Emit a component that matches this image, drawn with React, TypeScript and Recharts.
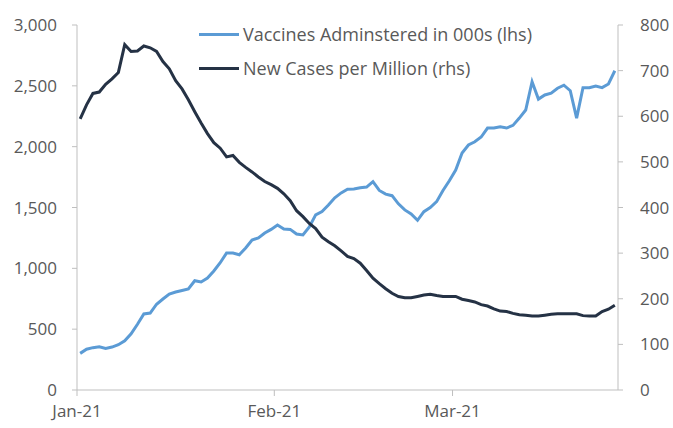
import React from 'react';
import { LineChart, Line, XAxis, YAxis } from 'recharts';

// daily values, 1 Jan 2021 to 26 Mar 2021
const vaccines = [
  301, 335, 348, 355, 342, 353, 372, 405, 462, 540,
  625, 632, 705, 748, 789, 805, 818, 830, 898, 888,
  920, 978, 1046, 1126, 1126, 1112, 1167, 1233, 1250, 1290,
  1320, 1356, 1323, 1320, 1282, 1274, 1340, 1440, 1466, 1520,
  1580, 1620, 1650, 1652, 1662, 1668, 1712, 1640, 1610, 1597,
  1530, 1480, 1447, 1395, 1466, 1500, 1548, 1640, 1720, 1808,
  1948, 2014, 2040, 2079, 2153, 2153, 2164, 2153, 2175, 2235,
  2301, 2534, 2391, 2425, 2440, 2480, 2505, 2460, 2235, 2485,
  2485, 2499, 2485, 2515, 2624
];

const newCases = [
  594, 625, 650, 653, 670, 682, 696, 757, 742, 743,
  754, 750, 742, 720, 704, 678, 660, 636, 610, 585,
  562, 542, 530, 511, 514, 499, 488, 478, 467, 457,
  450, 442, 430, 415, 393, 380, 365, 354, 335, 325,
  316, 305, 293, 288, 278, 262, 245, 233, 222, 212,
  205, 202, 202, 205, 208, 210, 207, 205, 205, 205,
  199, 196, 193, 187, 184, 178, 173, 172, 168, 165,
  164, 162, 162, 164, 166, 167, 167, 167, 167, 163,
  162, 162, 172, 177, 186
];

const monthLabels = ['Jan-21', 'Feb-21', 'Mar-21'];
const monthStarts = [0, 31, 59];
const leftTicks = [0, 500, 1000, 1500, 2000, 2500, 3000];
const rightTicks = [0, 100, 200, 300, 400, 500, 600, 700, 800];

const seriesNames = ['Vaccines Adminstered in 000s (lhs)', 'New Cases per Million (rhs)'];

const data = vaccines.map((v, i) => ({ day: i + 0.5, vaccines: v, cases: newCases[i] }));

const BLUE = '#5B9BD5';
const NAVY = '#253245';
const AXIS = '#BFBFBF';
const TEXT = '#595959';
const FONT = '"Open Sans", sans-serif';

const tickStyle = { fill: TEXT, fontSize: 17, fontFamily: FONT };

const App: React.FC = () => {
  return (
    <div style={{ position: 'absolute', left: 0, top: 0, width: 673, height: 428, background: '#fff' }}>
      <LineChart width={673} height={428} data={data} margin={{ top: 25, right: 0, left: 0, bottom: 0 }}>
        <XAxis
          dataKey="day"
          type="number"
          domain={[0, 85]}
          ticks={monthStarts}
          tickFormatter={(v: number) => monthLabels[monthStarts.indexOf(v)]}
          height={38}
          stroke={AXIS}
          tickSize={6}
          tickMargin={9}
          tick={tickStyle}
        />
        <YAxis
          yAxisId="left"
          domain={[0, 3000]}
          ticks={leftTicks}
          tickFormatter={(v: number) => v.toLocaleString('en-US')}
          width={77}
          stroke={AXIS}
          tickSize={5}
          tickMargin={15}
          tick={tickStyle}
        />
        <YAxis
          yAxisId="right"
          orientation="right"
          domain={[0, 800]}
          ticks={rightTicks}
          width={55}
          stroke={AXIS}
          tickSize={5}
          tickMargin={17}
          tick={{ ...tickStyle, textAnchor: 'start' }}
        />
        <Line
          yAxisId="left"
          dataKey="vaccines"
          type="linear"
          stroke={BLUE}
          strokeWidth={3}
          dot={false}
          isAnimationActive={false}
        />
        <Line
          yAxisId="right"
          dataKey="cases"
          type="linear"
          stroke={NAVY}
          strokeWidth={3}
          dot={false}
          isAnimationActive={false}
        />
      </LineChart>
      {/* legend sits inside the plot area, top centre */}
      <div style={{ position: 'absolute', left: 199, top: 17, fontFamily: FONT, fontSize: 18, color: TEXT }}>
        {[BLUE, NAVY].map((c, i) => (
          <div key={i} style={{ display: 'flex', alignItems: 'center', height: 34 }}>
            <div style={{ width: 40, height: 3, background: c, marginRight: 4 }} />
            <span>{seriesNames[i]}</span>
          </div>
        ))}
      </div>
    </div>
  );
};

export default App;
